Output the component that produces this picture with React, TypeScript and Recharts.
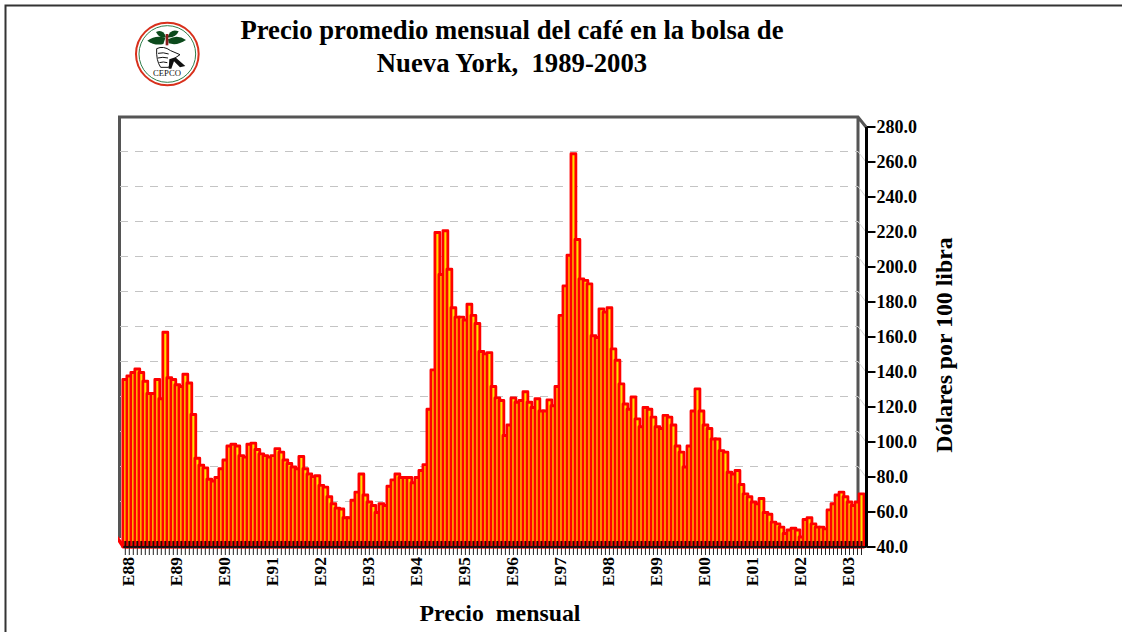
import React from "react";
import { BarChart, Bar, XAxis, YAxis, CartesianGrid } from "recharts";

const serif = "'Liberation Serif', 'Times New Roman', serif";

const monthLetters = ["E", "F", "M", "A", "Y", "J", "L", "G", "S", "O", "N", "D"];
const years = ["88", "89", "90", "91", "92", "93", "94", "95", "96", "97", "98", "99", "00", "01", "02", "03"];

// precio mensual, dolares por 100 libras
const prices = [
  136, 138, 140, 142, 140, 135, 128, 128, 136, 125, 163, 137, 136, 133, 132, 139,
  134, 116, 91, 87, 85.5, 79, 78, 80, 85, 90, 98, 99, 98, 92.5, 91.6, 99,
  99.6, 96, 93.5, 92.5, 91.6, 92.5, 96.5, 94.5, 90, 88, 86, 85, 92, 85,
  82, 80.5, 81, 75.5, 74.5, 69, 65, 62.5, 62, 57, 57, 67, 71.6, 82,
  70, 66, 64, 60, 65, 64, 75, 78.7, 82, 80, 80, 80, 77, 80, 84, 87.4,
  119, 141.5, 220, 196, 221, 199, 177, 171.6, 171.6, 170, 179, 172.6, 168, 152, 150.7, 151.4,
  132, 125.5, 124, 104, 110, 125.5, 123, 124, 129, 123, 120, 125, 118, 118, 124.4, 121,
  132, 172.6, 189.5, 207, 265, 216, 193.5, 192.6, 190.7, 161, 160, 176.4, 174.5, 177, 153.5, 147,
  133.5, 122, 119, 126, 113.5, 109, 120, 119, 114.5, 109, 108, 115.5, 114.5, 110, 98, 94.5,
  86, 98, 118, 130.7, 118, 110, 108, 102, 102, 95.4, 94.5, 83, 82, 84, 76, 70.7,
  69, 66, 65, 68, 60, 59, 54.5, 53.5, 51.6, 48, 50, 51, 50, 46, 56, 57,
  53.5, 51.6, 51.6, 50.7, 61.5, 65, 70, 71.6, 69, 66, 64, 66, 70.7,
];

const yTicks = [40, 60, 80, 100, 120, 140, 160, 180, 200, 220, 240, 260, 280];

// el primer mes es diciembre del 87
const months = prices.map((_, i) => {
  if (i === 0) return "D87";
  const m = i - 1;
  return monthLetters[m % 12] + years[Math.floor(m / 12)];
});
const chartData = months.map((month, i) => ({ month, price: prices[i] }));

const MonthTick = ({ x, y, payload }: any) => {
  const isJan = payload.value.startsWith("E");
  return (
    <g>
      <line x1={x} x2={x} y1={y - 6} y2={y} stroke="#300000" strokeWidth={2} />
      <line x1={x} x2={x} y1={y} y2={y + 8} stroke="#222" strokeWidth={1} />
      {isJan && (
        <text
          transform={`translate(${x + 5},${y + 10}) rotate(-90)`}
          textAnchor="end"
          fontFamily={serif}
          fontWeight="bold"
          fontSize={17.5}
          fill="#000"
        >
          {payload.value}
        </text>
      )}
    </g>
  );
};

// rejilla desplazada hacia la pared del fondo
const WallGridLine = ({ y1 }: any) => {
  if (y1 < 130 || y1 > 540) return <g />;
  return (
    <g>
      <line x1={120} x2={858} y1={y1 - 10.5} y2={y1 - 10.5} stroke="#c4c4c4" strokeDasharray="8 7" />
      <line x1={858} x2={866} y1={y1 - 10.5} y2={y1} stroke="#d8d8d8" />
    </g>
  );
};

// barra un poco mas ancha que su banda: la siguiente tapa parte del relleno
const StripeBar = ({ x, y, width, height }: any) => (
  <rect
    x={x - 0.45}
    y={y + 0.5}
    width={width + 0.9}
    height={height - 0.5}
    fill="#ffe000"
    stroke="#ff0000"
    strokeWidth={2.8}
    strokeLinejoin="round"
  />
);

const Backdrop = () => (
  <svg width={1122} height={632} style={{ position: "absolute", left: 0, top: 0 }}>
    <path d="M5.5 632V5.5H1122" fill="none" stroke="#333" strokeWidth={2} />

    {/* logo CEPCO */}
    <g transform="translate(130,20) scale(0.3333)">
      <circle cx={112} cy={102} r={94} fill="#fff" stroke="#d8301c" strokeWidth={6} />
      <circle cx={112} cy={102} r={85} fill="none" stroke="#2e7d4a" strokeWidth={3} />
      <path d="M52 62Q78 44 106 54L100 72Q74 78 52 62Z" fill="#0c4a1c" />
      <path d="M78 36Q100 26 108 52Q90 58 78 36Z" fill="#0c4a1c" />
      <path d="M112 52Q122 24 146 34Q138 54 112 52Z" fill="#0c4a1c" />
      <path d="M114 58Q142 42 168 60Q142 78 116 70Z" fill="#0c4a1c" />
      <rect x={107} y={42} width={8} height={34} fill="#8a1c1c" />
      <path
        d="M80 86Q100 76 122 92L150 104L138 112L128 120L116 142L92 142Q78 122 80 86ZM84 100Q100 96 116 102M84 114Q98 110 114 114M88 128Q100 124 112 128"
        fill="#fff"
        stroke="#111"
        strokeWidth={3}
      />
      <path d="M118 118L136 112L166 138L150 142L132 124L124 146H116Z" fill="#111" />
      <text x={111} y={168} textAnchor="middle" fontFamily={serif} fontSize={26} fill="#111">
        CEPCO
      </text>
    </g>

    <text x={512} y={39} textAnchor="middle" fontFamily={serif} fontWeight="bold" fontSize={26.7} fill="#000">
      Precio promedio mensual del café en la bolsa de
    </text>
    <text x={512} y={72} textAnchor="middle" fontFamily={serif} fontWeight="bold" fontSize={26.7} fill="#000" style={{ whiteSpace: "pre" }}>
      Nueva York,  1989-2003
    </text>

    {/* pared del fondo */}
    <path d="M119.5 538V117H858L866 127M858 117V538" fill="none" stroke="#555" strokeWidth={3} />
    <path d="M118 536L127 548H122L118 542Z" fill="#ff0000" />

    <text x={500} y={621} textAnchor="middle" fontFamily={serif} fontWeight="bold" fontSize={23.8} fill="#000" style={{ whiteSpace: "pre" }}>
      Precio  mensual
    </text>
    <text
      transform="translate(952,345) rotate(-90)"
      textAnchor="middle"
      fontFamily={serif}
      fontWeight="bold"
      fontSize={23.8}
      fill="#000"
    >
      Dólares por 100 libra
    </text>
  </svg>
);

export default function App() {
  return (
    <div style={{ position: "absolute", left: 0, top: 0, width: 1122, height: 632, background: "#fff", overflow: "hidden" }}>
      <Backdrop />
      <div style={{ position: "absolute", left: 0, top: 0 }}>
        <BarChart
          width={1122}
          height={632}
          data={chartData}
          barCategoryGap={0}
          margin={{ top: 127, right: 155.5, bottom: 0, left: 123.3 }}
        >
          <CartesianGrid vertical={false} horizontal={WallGridLine as any} />
          <Bar dataKey="price" shape={StripeBar as any} isAnimationActive={false} />
          <XAxis
            dataKey="month"
            interval={0}
            height={85}
            padding={{ left: 0, right: 3 }}
            tickLine={false}
            tickSize={0}
            tickMargin={0}
            axisLine={{ stroke: "#111", strokeWidth: 2 }}
            tick={MonthTick as any}
          />
          <YAxis
            orientation="right"
            domain={[40, 280]}
            ticks={yTicks}
            interval={0}
            width={100}
            tickSize={9}
            tickMargin={1}
            tickFormatter={(v: number) => v.toFixed(1)}
            tickLine={{ stroke: "#000", strokeWidth: 2 }}
            axisLine={{ stroke: "#000", strokeWidth: 3 }}
            tick={{ fill: "#000", fontFamily: serif, fontWeight: "bold", fontSize: 18, textAnchor: "start" }}
          />
        </BarChart>
      </div>
    </div>
  );
}
